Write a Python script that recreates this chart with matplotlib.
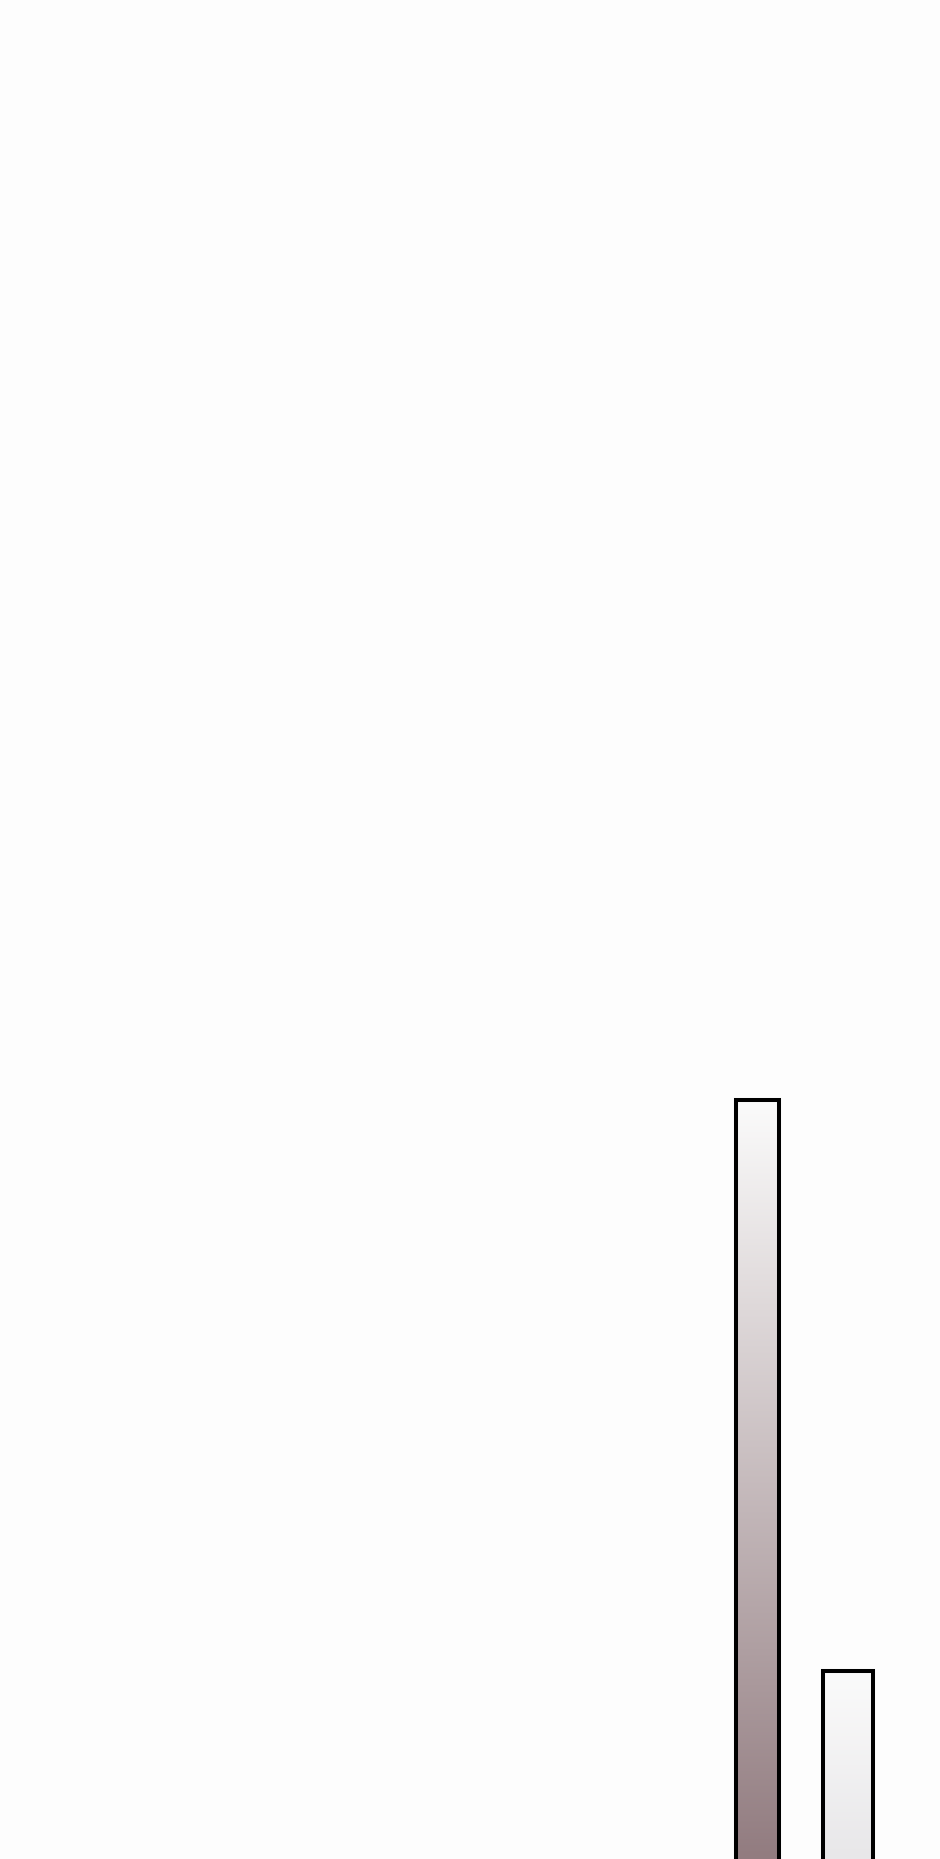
import numpy as np
import matplotlib
matplotlib.use("Agg")
import matplotlib.pyplot as plt
from matplotlib.colors import LinearSegmentedColormap

# Data
categories = ["A", "B"]
x_positions = [757, 847.5]
values = [40, 10]
top_colors = ["#fbfbfb", "#fbfbfb"]
bottom_colors = ["#927c80", "#e8e7e9"]

fig = plt.figure(figsize=(9.4, 18.59), dpi=100)
fig.patch.set_facecolor("#fdfdfd")
ax = fig.add_axes([0, 0, 1, 1])
ax.set_facecolor("#fdfdfd")
ax.axis("off")

y_low, y_high = 0.11, 97.85
widths = [43, 50]
for xp, v, w, tc, bc in zip(x_positions, values, widths, top_colors, bottom_colors):
    bars = ax.bar(xp, v, width=w, facecolor="none", edgecolor="black",
                  linewidth=2.9, zorder=3)
    patch = bars[0]
    cmap = LinearSegmentedColormap.from_list("g", [bc, tc])
    grad = np.linspace(0, 1, 256).reshape(-1, 1)
    im = ax.imshow(grad, cmap=cmap, aspect="auto", origin="lower",
                   extent=(xp - w / 2, xp + w / 2, y_low, v), zorder=2)
    im.set_clip_path(patch)

ax.set_xlim(0, 940)
ax.set_ylim(y_low, y_high)
fig.savefig("out.png", dpi=100, facecolor=fig.get_facecolor())
